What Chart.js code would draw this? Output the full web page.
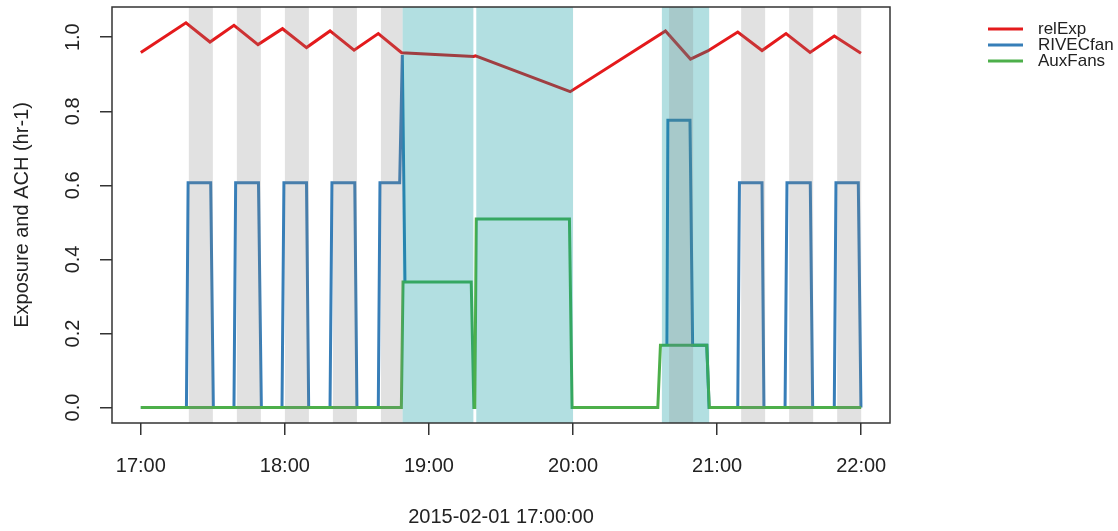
<!DOCTYPE html>
<html>
<head>
<meta charset="utf-8">
<title>Exposure and ACH</title>
<script src="https://cdn.jsdelivr.net/npm/chart.js@4.4.1/dist/chart.umd.min.js"></script>
<style>
  html, body { margin: 0; padding: 0; background: #fff; }
</style>
</head>
<body>
<canvas id="grafico" width="1118" height="531"></canvas>
<script>
// minutes after 17:00
var relExpTime  = [0, 18.8, 28.8, 38.8, 48.8, 59, 69, 78.8, 88.8, 98.9, 108.6, 138.6, 139.4, 178.8, 218.5, 228.9, 236.1, 248.6, 258.7, 268.7, 278.7, 288.8, 299.9];
var relExpValue = [0.959, 1.039, 0.987, 1.032, 0.980, 1.023, 0.972, 1.017, 0.965, 1.010, 0.958, 0.948, 0.950, 0.853, 1.017, 0.941, 0.963, 1.014, 0.964, 1.010, 0.959, 1.003, 0.957];

var rivecTime  = [0, 19.0, 19.7, 29.1, 30.2, 38.8, 39.5, 49.0, 50.2, 58.8, 59.6, 69.0, 69.9, 78.8, 79.6, 89.1, 90.0, 98.9, 99.6, 107.8, 108.9, 110.0, 150,
                  219.1, 219.5, 228.7, 229.8, 235.7, 236.7, 248.6, 249.3, 258.7, 259.5, 268.3, 269.1, 278.8, 279.8, 288.8, 289.5, 298.8, 299.9];
var rivecValue = [0, 0, 0.607, 0.607, 0, 0, 0.607, 0.607, 0, 0, 0.607, 0.607, 0, 0, 0.607, 0.607, 0, 0, 0.607, 0.607, 0.952, 0.339, null,
                  0.168, 0.776, 0.776, 0.168, 0.168, 0, 0, 0.607, 0.607, 0, 0, 0.607, 0.607, 0, 0, 0.607, 0.607, 0];

var auxTime  = [0, 108.5, 109.2, 137.6, 138.7, 139.1, 139.7, 178.5, 179.6, 215.3, 216.4, 235.7, 236.7, 300];
var auxValue = [0, 0, 0.339, 0.339, 0, 0, 0.509, 0.509, 0, 0, 0.168, 0.168, 0, 0];

// fan on (grey) and occupied (cyan) periods
var fanBands = [[20, 30], [40, 50], [60, 70], [80, 90], [100, 109], [220, 230], [250, 260], [270, 280], [290, 300]];
var occBands = [[109, 138.5], [139.7, 180], [217, 236.7]];

var xTicks = [0, 60, 120, 180, 240, 300];
var xTickLabels = ['17:00', '18:00', '19:00', '20:00', '21:00', '22:00'];
var yTicks = [0, 0.2, 0.4, 0.6, 0.8, 1.0];

var FONT = "'Liberation Sans', Arial, sans-serif";

function pares(t, v) {
    var out = [];
    for (var i = 0; i < t.length; i++) out.push({x: t[i], y: v[i]});
    return out;
}

var bandas = {
    id: 'bandas',
    afterDatasetsDraw: function (chart) {
        var ctx = chart.ctx, a = chart.chartArea, xs = chart.scales.x;
        ctx.save();
        ctx.beginPath();
        ctx.rect(a.left, a.top, a.right - a.left, a.bottom - a.top);
        ctx.clip();
        ctx.fillStyle = 'rgba(0,150,155,0.30)';
        occBands.forEach(function (b) {
            var x0 = xs.getPixelForValue(b[0]), x1 = xs.getPixelForValue(b[1]);
            ctx.fillRect(x0, a.top, x1 - x0, a.bottom - a.top);
        });
        ctx.fillStyle = 'rgba(128,128,128,0.24)';
        fanBands.forEach(function (b) {
            var x0 = xs.getPixelForValue(b[0]), x1 = xs.getPixelForValue(b[1]);
            ctx.fillRect(x0, a.top, x1 - x0, a.bottom - a.top);
        });
        ctx.restore();
    },
    afterDraw: function (chart) {
        var ctx = chart.ctx, a = chart.chartArea;
        ctx.save();
        ctx.strokeStyle = '#333';
        ctx.lineWidth = 1.5;
        ctx.strokeRect(a.left, a.top, a.right - a.left, a.bottom - a.top);

        // legend outside, on the right
        ctx.font = '17px ' + FONT;
        ctx.textBaseline = 'middle';
        ctx.textAlign = 'left';
        chart.data.datasets.forEach(function (ds, i) {
            var y = 29 + i * 16;
            ctx.strokeStyle = ds.borderColor;
            ctx.lineWidth = 3;
            ctx.beginPath();
            ctx.moveTo(988, y);
            ctx.lineTo(1023, y);
            ctx.stroke();
            ctx.fillStyle = '#222';
            ctx.fillText(ds.label, 1038, y);
        });
        ctx.restore();
    }
};

var ctx = document.getElementById('grafico').getContext('2d');
var myChart = new Chart(ctx, {
    type: 'line',
    data: {
        datasets: [
            {label: 'relExp', data: pares(relExpTime, relExpValue), borderColor: '#e41a1c', order: 2},
            {label: 'RIVECfan', data: pares(rivecTime, rivecValue), borderColor: '#377eb8', order: 1},
            {label: 'AuxFans', data: pares(auxTime, auxValue), borderColor: '#4daf4a', order: 0}
        ]
    },
    options: {
        responsive: false,
        animation: false,
        devicePixelRatio: 1,
        elements: {
            line: {borderWidth: 3, tension: 0, fill: false},
            point: {radius: 0, hoverRadius: 0}
        },
        layout: {padding: {top: 7, right: 228, bottom: 0, left: 0}},
        plugins: {
            legend: {display: false},
            tooltip: {enabled: false}
        },
        scales: {
            x: {
                type: 'linear',
                min: -12,
                max: 312,
                afterBuildTicks: function (s) { s.ticks = xTicks.map(function (v) { return {value: v}; }); },
                afterFit: function (s) { s.height = 108; s.paddingLeft = 0; s.paddingRight = 0; },
                ticks: {
                    font: {family: FONT, size: 20},
                    color: '#222',
                    padding: 19,
                    maxRotation: 0,
                    autoSkip: false,
                    callback: function (v, i) { return xTickLabels[i]; }
                },
                grid: {display: true, drawOnChartArea: false, drawTicks: true, tickLength: 12, color: '#333', lineWidth: 1.5},
                border: {display: false},
                title: {display: true, text: '2015-02-01 17:00:00', color: '#222',
                        font: {family: FONT, size: 20, lineHeight: 1.2}, padding: {top: 0, bottom: 2}}
            },
            y: {
                type: 'linear',
                min: -0.0416,
                max: 1.0816,
                afterBuildTicks: function (s) { s.ticks = yTicks.map(function (v) { return {value: v}; }); },
                afterFit: function (s) { s.width = 112; s.paddingTop = 0; s.paddingBottom = 0; },
                ticks: {
                    font: {family: FONT, size: 20},
                    color: '#222',
                    padding: 13,
                    minRotation: 90,
                    maxRotation: 90,
                    crossAlign: 'center',
                    callback: function (v) { return v.toFixed(1); }
                },
                grid: {display: true, drawOnChartArea: false, drawTicks: true, tickLength: 12, color: '#333', lineWidth: 1.5},
                border: {display: false},
                title: {display: true, text: 'Exposure and ACH (hr-1)', color: '#222',
                        font: {family: FONT, size: 20, lineHeight: 1.2}, padding: {top: 10, bottom: 0}}
            }
        }
    },
    plugins: [bandas]
});
</script>
</body>
</html>
